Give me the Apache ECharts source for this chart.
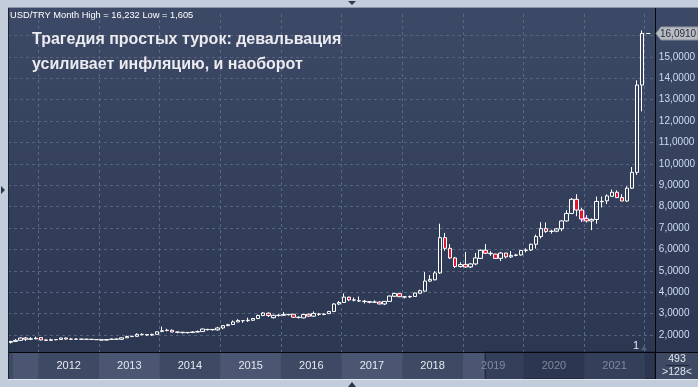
<!DOCTYPE html>
<html><head><meta charset="utf-8">
<script src="https://cdn.jsdelivr.net/npm/echarts@6/dist/echarts.min.js"></script>
<style>html,body{margin:0;padding:0;background:#c2ccda;}#c{width:698px;height:387px;}</style>
</head><body><div id="c"></div>
<script>
// ---- data ----
const monthNames = ['Jan','Feb','Mar','Apr','May','Jun','Jul','Aug','Sep','Oct','Nov','Dec'];
const categories = [];
for (let y = 2011; y <= 2022; y++) for (let m = 0; m < 12; m++) {
  const idx = (y - 2011) * 12 + m;
  if (idx >= 6 && idx < 6 + 128) categories.push(monthNames[m] + ' ' + y);
}
// Jul 2011 .. Dec 2021 (monthly OHLC, USD/TRY)
const opens = [
 1.66,1.70,1.75,1.86,1.80,1.82,
 1.88,1.77,1.75,1.78,1.79,1.86,1.81,1.80,1.81,1.80,1.80,1.79,
 1.78,1.76,1.79,1.81,1.80,1.87,1.93,1.94,2.03,2.02,2.00,2.03,
 2.17,2.21,2.22,2.14,2.13,2.11,2.12,2.14,2.16,2.25,2.25,2.24,
 2.33,2.44,2.49,2.61,2.67,2.67,2.69,2.77,2.91,3.02,2.81,2.91,
 2.92,2.95,2.97,2.82,2.80,2.97,2.88,2.98,2.96,3.00,3.10,3.45,
 3.52,3.77,3.63,3.60,3.58,3.56,3.53,3.54,3.45,3.57,3.81,3.93,
 3.78,3.78,3.80,3.95,4.05,4.52,4.58,4.90,6.55,6.05,5.60,5.20,
 5.30,5.18,5.32,5.58,5.96,5.82,5.78,5.58,5.83,5.65,5.72,5.74,
 5.95,5.97,6.24,6.60,6.97,6.84,6.85,6.96,7.33,7.68,8.34,7.84,
 7.44,7.33,7.40,8.23,8.27,8.48,8.67,8.42,8.26,8.86,9.60,13.68
];
const closes = [
 1.70,1.75,1.86,1.80,1.82,1.85,
 1.77,1.75,1.78,1.79,1.86,1.81,1.80,1.81,1.80,1.80,1.79,1.78,
 1.76,1.79,1.81,1.80,1.87,1.93,1.94,2.03,2.02,2.00,2.03,2.15,
 2.20,2.22,2.14,2.13,2.11,2.12,2.14,2.16,2.28,2.26,2.26,2.33,
 2.44,2.48,2.61,2.68,2.67,2.69,2.77,2.91,3.03,2.91,2.92,2.92,
 2.95,2.96,2.83,2.83,2.96,2.88,3.01,2.97,2.98,3.10,3.45,3.52,
 3.77,3.64,3.64,3.59,3.56,3.53,3.54,3.45,3.57,3.82,3.94,3.79,
 3.78,3.80,3.96,4.07,4.52,4.60,4.90,6.55,6.05,5.60,5.20,5.29,
 5.18,5.32,5.60,5.96,5.82,5.80,5.58,5.83,5.65,5.72,5.74,5.95,
 5.97,6.24,6.60,6.97,6.84,6.85,6.96,7.33,7.68,8.34,7.84,7.42,
 7.33,7.40,8.24,8.25,8.50,8.67,8.42,8.26,8.86,9.60,13.68,16.09
];
const lows = [
 1.605,1.69,1.72,1.72,1.77,1.80,
 1.75,1.73,1.74,1.75,1.77,1.79,1.78,1.78,1.77,1.78,1.77,1.77,
 1.75,1.75,1.79,1.78,1.78,1.86,1.90,1.92,1.98,1.96,1.96,2.01,
 2.13,2.17,2.13,2.08,2.07,2.07,2.09,2.13,2.15,2.21,2.20,2.20,
 2.27,2.41,2.49,2.60,2.57,2.61,2.66,2.74,2.88,2.84,2.77,2.86,
 2.91,2.91,2.81,2.77,2.78,2.86,2.86,2.90,2.93,2.98,3.07,3.40,
 3.50,3.58,3.57,3.54,3.47,3.48,3.50,3.44,3.40,3.55,3.78,3.77,
 3.71,3.73,3.78,3.93,4.03,4.48,4.55,4.85,5.94,5.55,5.13,5.15,
 5.14,5.13,5.26,5.55,5.78,5.70,5.55,5.45,5.58,5.60,5.68,5.71,
 5.86,5.93,6.04,6.51,6.77,6.74,6.80,6.85,7.30,7.65,7.55,7.28,
 7.25,6.90,7.20,7.96,8.12,8.45,8.40,8.26,8.22,8.82,9.48,12.45
];
const highs = [
 1.72,1.81,1.89,1.91,1.90,1.92,
 1.90,1.79,1.83,1.80,1.88,1.88,1.85,1.84,1.82,1.82,1.81,1.80,
 1.80,1.81,1.83,1.82,1.88,1.97,1.96,2.08,2.08,2.03,2.06,2.17,
 2.39,2.29,2.26,2.16,2.14,2.14,2.17,2.21,2.30,2.29,2.27,2.38,
 2.45,2.52,2.68,2.74,2.70,2.81,2.80,2.96,3.07,3.06,2.95,2.98,
 3.07,2.99,2.98,2.87,2.99,3.00,3.10,3.03,3.01,3.12,3.49,3.59,
 3.94,3.79,3.75,3.80,3.64,3.58,3.62,3.57,3.58,3.84,3.97,3.95,
 3.82,3.84,3.98,4.12,4.94,4.80,4.98,7.20,6.77,6.25,5.65,5.40,
 5.88,5.36,5.83,6.00,6.25,5.92,5.80,5.88,5.84,5.92,5.79,5.97,
 6.05,6.27,6.69,7.27,7.26,6.92,7.00,7.37,7.83,8.40,8.58,7.95,
 7.60,7.45,8.47,8.47,8.57,8.80,8.76,8.58,8.95,9.85,13.90,16.23
];
const yearLabels = ['2012','2013','2014','2015','2016','2017','2018','2019','2020','2021'];
const dimmedYears = ['2019','2020','2021'];
const lastPrice = 16.0910;
const headerText = 'USD/TRY Month High = 16,232 Low = 1,605';
const titleLines = ['Трагедия простых турок: девальвация', 'усиливает инфляцию, и наоборот'];
const signalMonth = 'Dec 2020';
const signalValue = 7.56;

// ---- fonts: pick a narrow face if one is installed, else a smaller regular one ----
const SANS = "'Liberation Sans',Arial,sans-serif";
function pickNarrow() {
  const ctx = document.createElement('canvas').getContext('2d');
  ctx.font = '11px monospace';
  const base = ctx.measureText('15,0000').width;
  const cands = ['Liberation Sans Narrow', 'Arial Narrow', 'DejaVu Sans Condensed'];
  for (const c of cands) {
    ctx.font = "11px '" + c + "', monospace";
    const w = ctx.measureText('15,0000').width;
    if (Math.abs(w - base) > 0.5 && w < 35) return {family: "'" + c + "'," + SANS, size: 11, narrow: true};
  }
  return {family: SANS, size: 10, narrow: false};
}
const NF = pickNarrow();
const NFONT = NF.size + 'px ' + NF.family;
const SMALLFONT = NF.narrow ? ('11px ' + NF.family) : ('10.5px ' + SANS);

// ---- chart ----
const candleData = opens.map((o, i) => [o, closes[i], lows[i], highs[i]]);
const fmt = v => v.toFixed(4).replace('.', ',');
const FRAME = '#c2ccda';

const chart = echarts.init(document.getElementById('c'), null, {renderer: 'canvas'});
chart.setOption({
  animation: false,
  backgroundColor: new echarts.graphic.LinearGradient(0, 0, 0, 1, [
    {offset: 0, color: '#3d4a67'}, {offset: 0.9, color: '#2c3752'}, {offset: 1, color: '#2c3752'}]),
  grid: [
    {left: 8, right: 43, top: 14, bottom: 30.6, containLabel: false},
    {left: 8, right: 43, top: 352, height: 27, containLabel: false, show: true,
     backgroundColor: '#3e4a64', borderWidth: 0}
  ],
  xAxis: [
    {type: 'category', gridIndex: 0, data: categories, boundaryGap: true,
     axisLine: {show: false}, axisTick: {show: false}, axisLabel: {show: false},
     splitLine: {show: true, interval: (i) => categories[i].startsWith('Jan'),
       lineStyle: {color: '#5a6781', type: [3, 3], width: 1}}},
    {type: 'value', gridIndex: 1, min: 0, max: 128, interval: 12, z: 10,
     axisLine: {show: false}, axisTick: {show: false}, splitLine: {show: false},
     axisLabel: {inside: true, margin: 8, fontFamily: SANS, fontSize: 11,
       showMinLabel: false, showMaxLabel: false,
       formatter: v => { const t = yearLabels[v / 12 - 1] || ''; return dimmedYears.includes(t) ? '{d|' + t + '}' : t; },
       color: '#e4e9f1', rich: {d: {color: '#7f8aa0', fontFamily: SANS, fontSize: 11}}}}
  ],
  yAxis: [
    {type: 'value', gridIndex: 0, position: 'right', min: 1, max: 17, interval: 1,
     axisLine: {show: false}, axisTick: {show: false},
     axisLabel: {margin: 4, fontFamily: NF.family, fontSize: NF.size, color: '#cfdcf2',
       formatter: v => (v < 2 || v > 15) ? '' : fmt(v)},
     splitLine: {show: true, showMinLine: false, showMaxLine: false,
       lineStyle: {color: '#56637d', type: [3, 3], width: 1}}},
    {type: 'value', gridIndex: 1, min: 0, max: 1, show: false}
  ],
  series: [
    {type: 'candlestick', xAxisIndex: 0, yAxisIndex: 0, data: candleData, barWidth: 4, z: 5,
     itemStyle: {color: 'rgba(0,0,0,0)', color0: '#e3152f', borderColor: '#ffffff',
       borderColor0: '#ffffff', borderColorDoji: '#ffffff', borderWidth: 1},
     emphasis: {disabled: true},
     markPoint: {silent: true, data: [{coord: [signalMonth, signalValue],
       symbol: 'path://M3,0 L5,0 L5,7 L8,7 L4,12 L0,7 L3,7 Z', symbolSize: [8, 12],
       symbolOffset: [2, 0], itemStyle: {color: '#cf6cf2'}, label: {show: false}}]}},
    {type: 'line', xAxisIndex: 1, yAxisIndex: 1, data: [], z: 1, silent: true,
     markArea: {silent: true, label: {show: false}, data: [
       [{xAxis: 1, itemStyle: {color: '#4a5672'}}, {xAxis: 6}],
       [{xAxis: 18, itemStyle: {color: '#4a5672'}}, {xAxis: 30}],
       [{xAxis: 42, itemStyle: {color: '#4a5672'}}, {xAxis: 54}],
       [{xAxis: 66, itemStyle: {color: '#4a5672'}}, {xAxis: 78}],
       [{xAxis: 90, itemStyle: {color: '#4a5672'}}, {xAxis: 94.4}],
       [{xAxis: 94.4, itemStyle: {color: '#2c3650', borderColor: '#1c2336', borderWidth: 1}}, {xAxis: 128}],
       [{xAxis: 94.6, itemStyle: {color: '#343f59'}}, {xAxis: 102}],
       [{xAxis: 114, itemStyle: {color: '#343f59'}}, {xAxis: 126}]
     ]}}
  ],
  graphic: [
    {id: 'bandR', type: 'rect', z: 40, shape: {x: 655, y: 352, width: 43, height: 27}, style: {fill: '#3e4a64'}},
    {id: 'frT', type: 'rect', z: 40, shape: {x: 0, y: 0, width: 698, height: 7}, style: {fill: FRAME}},
    {id: 'frL', type: 'rect', z: 40, shape: {x: 0, y: 0, width: 8, height: 387}, style: {fill: FRAME}},
    {id: 'frB', type: 'rect', z: 40, shape: {x: 0, y: 380, width: 698, height: 7}, style: {fill: FRAME}},
    {id: 'lnX', type: 'line', z: 50, shape: {x1: 8, y1: 352.5, x2: 698, y2: 352.5}, style: {stroke: '#05070c', lineWidth: 1}},
    {id: 'lnY', type: 'line', z: 50, shape: {x1: 655.5, y1: 8, x2: 655.5, y2: 379}, style: {stroke: '#05070c', lineWidth: 1}},
    {id: 'lnL', type: 'line', z: 50, shape: {x1: 8.5, y1: 7, x2: 8.5, y2: 380}, style: {stroke: '#1a2233', lineWidth: 1}},
    {id: 'lnT', type: 'line', z: 50, shape: {x1: 8, y1: 7.5, x2: 698, y2: 7.5}, style: {stroke: '#8a96aa', lineWidth: 1}},
    {id: 'lnB', type: 'line', z: 50, shape: {x1: 8, y1: 379.5, x2: 698, y2: 379.5}, style: {stroke: '#e4e9f1', lineWidth: 1}},
    {id: 'arT', type: 'polygon', z: 50, shape: {points: [[348, 1], [356, 1], [352, 5]]}, style: {fill: '#2a3550'}},
    {id: 'arL', type: 'polygon', z: 50, shape: {points: [[1, 186], [1, 194], [5, 190]]}, style: {fill: '#2a3550'}},
    {id: 'arB', type: 'polygon', z: 50, shape: {points: [[348, 387], [356, 387], [352, 382]]}, style: {fill: '#2a3550'}},
    {id: 'hdr', type: 'text', z: 60, style: {x: 10, y: 15, text: headerText, fill: '#ffffff', font: NF.narrow ? ('11px ' + NF.family) : ('9.3px ' + SANS), verticalAlign: 'middle'}},
    {id: 't1', type: 'text', z: 60, style: {x: 32, y: 40, text: titleLines[0], fill: '#ecebf0', font: "bold 16px " + SANS, verticalAlign: 'middle'}},
    {id: 't2', type: 'text', z: 60, style: {x: 32, y: 65, text: titleLines[1], fill: '#ecebf0', font: "bold 16px " + SANS, verticalAlign: 'middle'}},
    {id: 'n493', type: 'text', z: 60, style: {x: 677, y: 359, text: '493', fill: '#dfe5ee', font: SMALLFONT, align: 'center', verticalAlign: 'middle'}},
    {id: 'nl', type: 'line', z: 60, shape: {x1: 666, y1: 365.5, x2: 689, y2: 365.5}, style: {stroke: '#1e2638', lineWidth: 1}},
    {id: 'n128', type: 'text', z: 60, style: {x: 677, y: 372, text: '>128<', fill: '#dfe5ee', font: SMALLFONT, align: 'center', verticalAlign: 'middle'}},
    {id: 'one', type: 'text', z: 60, style: {x: 636, y: 346, text: '1', fill: '#e6ebf3', font: "11px " + SANS, align: 'center', verticalAlign: 'middle'}},
    {id: 'oneTri', type: 'polygon', z: 60, shape: {points: [[641, 350], [647, 350], [644, 346]]}, style: {fill: '#55627c'}}
  ]
});

// current price tag and last-price tick, placed through the chart's own scales
const py = chart.convertToPixel({yAxisIndex: 0}, lastPrice);
const px = chart.convertToPixel({xAxisIndex: 0}, categories[closes.length - 1]);
if (isFinite(py) && isFinite(px)) {
  chart.setOption({graphic: [
    {id: 'lastTick', type: 'line', z: 60, shape: {x1: px + 4, y1: Math.round(py) + 0.5, x2: px + 8, y2: Math.round(py) + 0.5}, style: {stroke: '#ffffff', lineWidth: 1}},
    {id: 'tagBox', type: 'polygon', z: 60, shape: {points: [[656, py], [661, py - 6.5], [698, py - 6.5], [698, py + 6.5], [661, py + 6.5]]},
     style: {fill: '#b7bbc3', stroke: '#8e939c', lineWidth: 1}},
    {id: 'tagTxt', type: 'text', z: 61, style: {x: 660, y: py + 0.5, text: fmt(lastPrice), fill: '#2b2f36', font: NFONT, verticalAlign: 'middle'}}
  ]});
}
</script>
</body></html>
